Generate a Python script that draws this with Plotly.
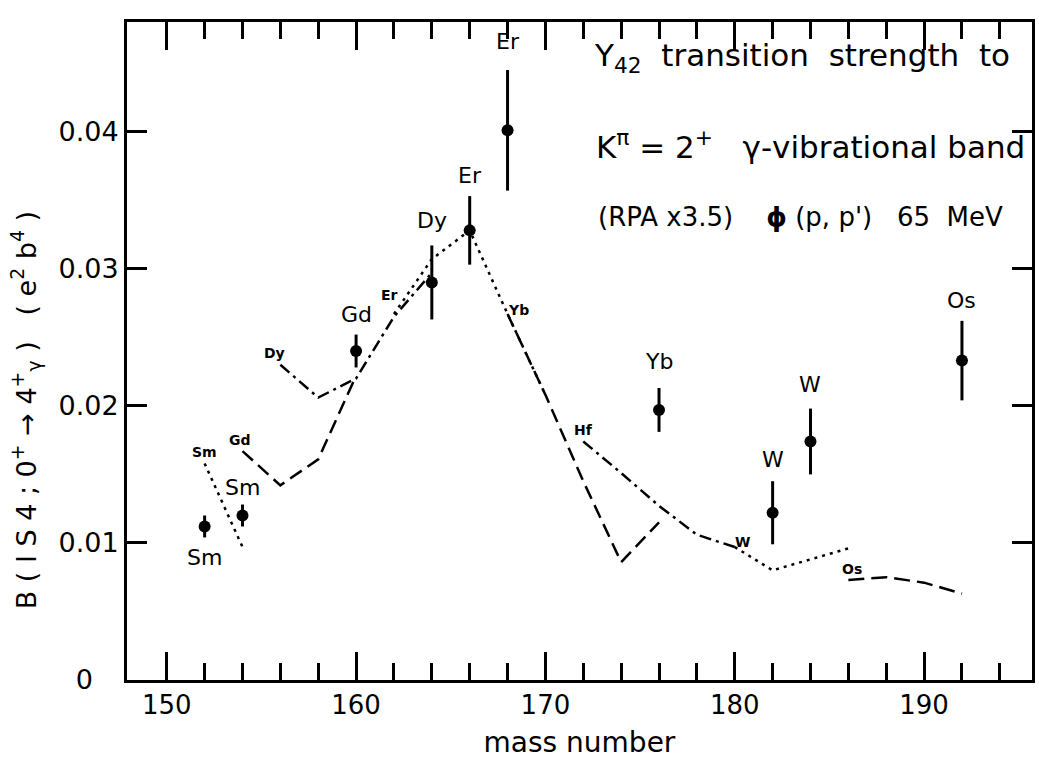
import plotly.graph_objects as go

# ---------------- data ----------------
exp_mass = [152, 154, 160, 164, 166, 168, 176, 182, 184, 192]
exp_B = [0.0112, 0.0120, 0.0240, 0.0290, 0.0328, 0.0401, 0.0197, 0.0122, 0.0174, 0.0233]
exp_err = [0.0008, 0.0008, 0.0012, 0.0027, 0.0025, 0.0044, 0.0016, 0.0023, 0.0024, 0.0029]
exp_label = ["Sm", "Sm", "Gd", "Dy", "Er", "Er", "Yb", "W", "W", "Os"]

sm_mass = [152, 154]
sm_B = [0.0158, 0.0097]
gd_mass = [154, 156, 158, 160]
gd_B = [0.0167, 0.0142, 0.0161, 0.0222]
dy_mass = [156, 158, 160, 162, 164]
dy_B = [0.0230, 0.0206, 0.0220, 0.0265, 0.0297]
er_mass = [162, 164, 166, 168, 170]
er_B = [0.0267, 0.0307, 0.0328, 0.0267, 0.0208]
yb_mass = [168, 170, 172, 174, 176]
yb_B = [0.0267, 0.0208, 0.0145, 0.0086, 0.0115]
hf_mass = [172, 174, 176, 178, 180]
hf_B = [0.0174, 0.0151, 0.0127, 0.0106, 0.0097]
w_mass = [180, 182, 184, 186]
w_B = [0.0097, 0.0080, 0.0088, 0.0096]
os_mass = [186, 188, 190, 192]
os_B = [0.0073, 0.0075, 0.0071, 0.0063]

x_ticks = [150, 160, 170, 180, 190]
x_minor_ticks = list(range(150, 196, 2))
y_ticks = [0, 0.01, 0.02, 0.03, 0.04]
y_ticktext = ["0", "0.01", "0.02", "0.03", "0.04"]

FONT = "DejaVu Sans"
DOT = "3px,5px"
DASH = "14px,7px"
DASHDOT = "12px,5px,3px,5px"
X_RANGE = [147.9, 195.7]
NB = "\u00a0"

rpa = [
    ("Sm", sm_mass, sm_B, DOT),
    ("Gd", gd_mass, gd_B, DASH),
    ("Dy", dy_mass, dy_B, DASHDOT),
    ("Er", er_mass, er_B, DOT),
    ("Yb", yb_mass, yb_B, DASH),
    ("Hf", hf_mass, hf_B, DASHDOT),
    ("W", w_mass, w_B, DOT),
    ("Os", os_mass, os_B, "16px,7px"),
]

fig = go.Figure()
for name, m, b, d in rpa:
    fig.add_trace(go.Scatter(x=m, y=b, mode="lines", name=name,
                             line=dict(color="black", width=2.5, dash=d),
                             showlegend=False, hoverinfo="skip"))

fig.add_trace(go.Scatter(
    x=exp_mass, y=exp_B, mode="markers", showlegend=False,
    marker=dict(color="black", size=12),
    error_y=dict(type="data", array=exp_err, thickness=3, width=0, color="black"),
))
# empty trace so the overlay axis with the short ticks exists
fig.add_trace(go.Scatter(x=x_ticks, y=[None] * len(x_ticks), xaxis="x2", mode="lines",
                         showlegend=False, hoverinfo="skip"))

annotations = []
label_shift = [-6, 3, 6, 10, 6, 14, 12, 7, 10, 6]
for i, (m, b, e, lab) in enumerate(zip(exp_mass, exp_B, exp_err, exp_label)):
    if i == 0:
        annotations.append(dict(x=m, y=b - e, xref="x", yref="y", text=lab, showarrow=False,
                                yanchor="top", yshift=label_shift[i],
                                font=dict(size=22, family=FONT, color="black")))
    else:
        annotations.append(dict(x=m, y=b + e, xref="x", yref="y", text=lab, showarrow=False,
                                yanchor="bottom", yshift=label_shift[i],
                                font=dict(size=22, family=FONT, color="black")))

small = [
    (sm_mass[0], sm_B[0], "Sm", 0, 1),
    (gd_mass[0], gd_B[0], "Gd", -2, 1),
    (dy_mass[0], dy_B[0], "Dy", -6, 2),
    (er_mass[0], er_B[0], "Er", -4, 9),
    (yb_mass[0], yb_B[0], "Yb", 11, -6),
    (hf_mass[0], hf_B[0], "Hf", 0, 1),
    (w_mass[0], w_B[0], "W", 8, -5),
    (os_mass[0], os_B[0], "Os", 4, 1),
]
for m, b, lab, xs, ys in small:
    annotations.append(dict(x=m, y=b, xref="x", yref="y", text="<b>" + lab + "</b>", showarrow=False,
                            yanchor="bottom", xshift=xs, yshift=ys,
                            font=dict(size=14, family=FONT, color="black")))

L, R, T, B = 127, 1035, 22, 680
W, H = 1039, 764
def px(x):
    return (x - L) / (R - L)
def py(y):
    return (B - y) / (B - T)

annotations += [
    dict(x=px(594), y=py(57), xref="paper", yref="paper", xanchor="left", yanchor="middle",
         text="Y<sub>42</sub>" + NB + " transition" + NB + " strength" + NB + " to", showarrow=False,
         font=dict(size=31, family=FONT, color="black")),
    dict(x=px(596), y=py(145), xref="paper", yref="paper", xanchor="left", yanchor="middle",
         text="K<sup>π</sup> = 2<sup>+</sup>" + NB + NB + " γ-vibrational band", showarrow=False,
         font=dict(size=31, family=FONT, color="black")),
    dict(x=px(598), y=py(217), xref="paper", yref="paper", xanchor="left", yanchor="middle",
         text="(RPA x3.5)" + NB + NB + "  <b>ɸ</b> (p, p')" + NB + NB + " 65" + NB + " MeV", showarrow=False,
         font=dict(size=26, family=FONT, color="black")),
]

ytitle = NB.join(["B", "(", "I", "S", "4", ";", "0<sup>+</sup>", "→", "4<sup>+</sup><sub>γ</sub>", ")"]) \
    + NB * 3 + NB.join(["(", "e<sup>2</sup>", "b<sup>4</sup>", ")"])
annotations.append(dict(x=(25 - L) / (R - L), y=py(410), xref="paper", yref="paper",
                        xanchor="center", yanchor="middle", textangle=-90, text=ytitle,
                        showarrow=False, font=dict(size=27, family=FONT, color="black")))

# the "0" label sits further left in the original
y_text_drawn = [t + NB * 3 if t == "0" else t for t in y_ticktext]

fig.update_layout(
    width=W, height=H,
    margin=dict(l=L, r=W - R, t=T, b=H - B),
    paper_bgcolor="white", plot_bgcolor="white",
    font=dict(family=FONT, color="black"),
    annotations=annotations,
    xaxis=dict(range=X_RANGE, tickmode="array", tickvals=x_ticks,
               ticktext=[str(v) for v in x_ticks],
               ticks="inside", ticklen=28, tickwidth=2.5,
               tickcolor="black", showline=True, linecolor="black", linewidth=3, mirror="ticks",
               showgrid=False, zeroline=False, tickfont=dict(size=26, family=FONT),
               title=dict(text="mass number", font=dict(size=28, family=FONT), standoff=14)),
    xaxis2=dict(range=X_RANGE, overlaying="x", side="bottom", anchor="y", tickmode="array",
                tickvals=x_minor_ticks, showticklabels=False, ticks="inside", ticklen=17, tickwidth=2.5,
                tickcolor="black", showline=True, linecolor="black", linewidth=3, mirror="ticks",
                showgrid=False, zeroline=False),
    yaxis=dict(range=[0, 0.048], tickmode="array", tickvals=y_ticks, ticktext=y_text_drawn,
               ticks="inside", ticklen=20, tickwidth=2.5,
               tickcolor="black", showline=True, linecolor="black", linewidth=3, mirror="ticks",
               showgrid=False, zeroline=False, tickfont=dict(size=27, family=FONT)),
)

fig.write_html("out.html")
